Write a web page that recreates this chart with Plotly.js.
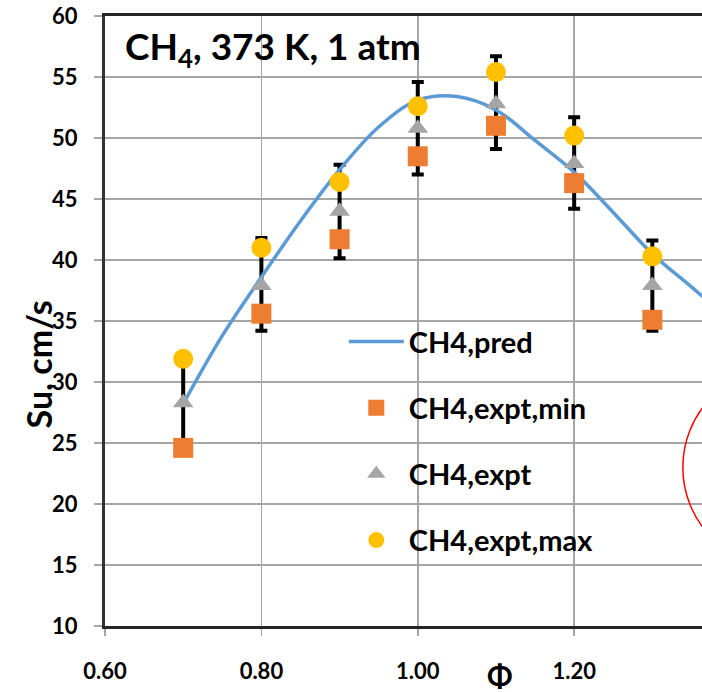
<!DOCTYPE html>
<html>
<head>
<meta charset="utf-8">
<script src="https://cdn.plot.ly/plotly-3.0.1.min.js"></script>
<style>html,body{margin:0;padding:0;background:#fff;}#chart{width:702px;height:692px;}</style>
</head>
<body>
<div id="chart"></div>
<script>
// Equivalence ratio of the experimental points
const phi = [0.70, 0.80, 0.90, 1.00, 1.10, 1.20, 1.30];
const exptMin = [24.6, 35.6, 41.7, 48.5, 51.0, 46.3, 35.1];
const expt = [28.3, 37.9, 44.0, 50.8, 52.8, 47.9, 37.9];
const exptMax = [31.9, 41.0, 46.4, 52.6, 55.4, 50.2, 40.3];
const errPlus = [3.6, 3.9, 3.8, 3.8, 3.9, 3.8, 3.7];
const errMinus = [3.7, 3.7, 3.85, 3.8, 3.7, 3.7, 3.7];
// Predicted curve
const phiPred = [0.70, 0.75, 0.80, 0.85, 0.90, 0.95, 1.00, 1.05, 1.10, 1.15, 1.20, 1.25, 1.30, 1.35, 1.40];
const suPred = [28.2, 33.8, 38.6, 43.2, 47.4, 50.9, 53.1, 53.4, 52.3, 49.8, 47.2, 43.9, 40.5, 37.8, 35.0];
const xTicks = [0.6, 0.8, 1.0, 1.2];
const xTickText = ['0.60', '0.80', '1.00', '1.20'];

const F = 'Lato, "Noto Sans", sans-serif';

const traces = [
  {x: phi, y: expt, type: 'scatter', mode: 'markers', showlegend: false, hoverinfo: 'skip',
   marker: {size: 2, opacity: 0},
   error_y: {type: 'data', symmetric: false, array: errPlus, arrayminus: errMinus,
             color: '#000000', thickness: 4, width: 6}},
  {x: phiPred, y: suPred, type: 'scatter', mode: 'lines', name: 'CH4,pred', legendgroup: 'a',
   line: {color: '#5B9BD5', width: 3.5, shape: 'spline'}},
  {x: phi, y: exptMin, type: 'scatter', mode: 'markers', name: 'CH4,expt,min', legendgroup: 'b',
   marker: {symbol: 'square', size: 20, color: '#ED7D31'}},
  {x: phi, y: expt, type: 'scatter', mode: 'markers', name: 'CH4,expt', legendgroup: 'c',
   marker: {symbol: 'triangle-up', size: 18, color: '#A5A5A5'}},
  {x: phi, y: exptMax, type: 'scatter', mode: 'markers', name: 'CH4,expt,max', legendgroup: 'd',
   marker: {symbol: 'circle', size: 20, color: '#FFC000'}}
];

const layout = {
  width: 702, height: 692,
  margin: {l: 105, r: 0, t: 16, b: 66, pad: 0},
  paper_bgcolor: '#ffffff', plot_bgcolor: '#ffffff',
  font: {family: F, color: '#000000'},
  showlegend: true,
  legend: {x: 0.40, xanchor: 'left', y: 0.508, yanchor: 'top',
           bgcolor: 'rgba(0,0,0,0)', borderwidth: 0,
           font: {family: F, size: 29, weight: 700, color: '#000000'},
           traceorder: 'grouped', tracegroupgap: 25.5, itemwidth: 55},
  xaxis: {range: [0.6, 1.3635], tickvals: xTicks, ticktext: xTickText,
          showgrid: true, gridcolor: '#A6A6A6', gridwidth: 1.5,
          showline: true, linecolor: '#262626', linewidth: 3, mirror: true,
          ticks: 'outside', ticklen: 7, tickcolor: '#A6A6A6', tickwidth: 1.5,
          ticklabelstandoff: 17,
          tickfont: {family: F, size: 22, weight: 700, color: '#000000'},
          zeroline: false, fixedrange: true},
  yaxis: {range: [10, 60], dtick: 5, tick0: 10,
          showgrid: true, gridcolor: '#A6A6A6', gridwidth: 1.5,
          showline: true, linecolor: '#333333', linewidth: 3, mirror: false,
          ticks: 'outside', ticklen: 8, tickcolor: '#A6A6A6', tickwidth: 1.5,
          ticklabelstandoff: 12,
          tickfont: {family: F, size: 22, weight: 700, color: '#000000'},
          zeroline: false, fixedrange: true},
  annotations: [
    {text: 'CH<sub>4</sub>, 373 K, 1 atm', xref: 'paper', yref: 'y', x: 0.030, y: 57.3,
     xanchor: 'left', yanchor: 'middle', showarrow: false,
     font: {family: F, size: 37, weight: 700, color: '#000000'}},
    {text: 'Su, cm/s', xref: 'paper', yref: 'y', x: -0.112, y: 31.45, textangle: -90,
     xanchor: 'center', yanchor: 'middle', showarrow: false,
     font: {family: F, size: 34, weight: 700, color: '#000000'}},
    {text: 'Φ', xref: 'x', yref: 'paper', x: 1.105, y: -0.08,
     xanchor: 'center', yanchor: 'middle', showarrow: false,
     font: {family: F, size: 30, weight: 700, color: '#000000'}}
  ],
  shapes: [
    {type: 'circle', xref: 'x', yref: 'y', x0: 1.339, x1: 1.595, y0: 14.8, y1: 31.2,
     line: {color: '#FF0000', width: 1.5}, layer: 'above'}
  ]
};

Plotly.newPlot('chart', traces, layout, {displayModeBar: false, staticPlot: true});
</script>
</body>
</html>
